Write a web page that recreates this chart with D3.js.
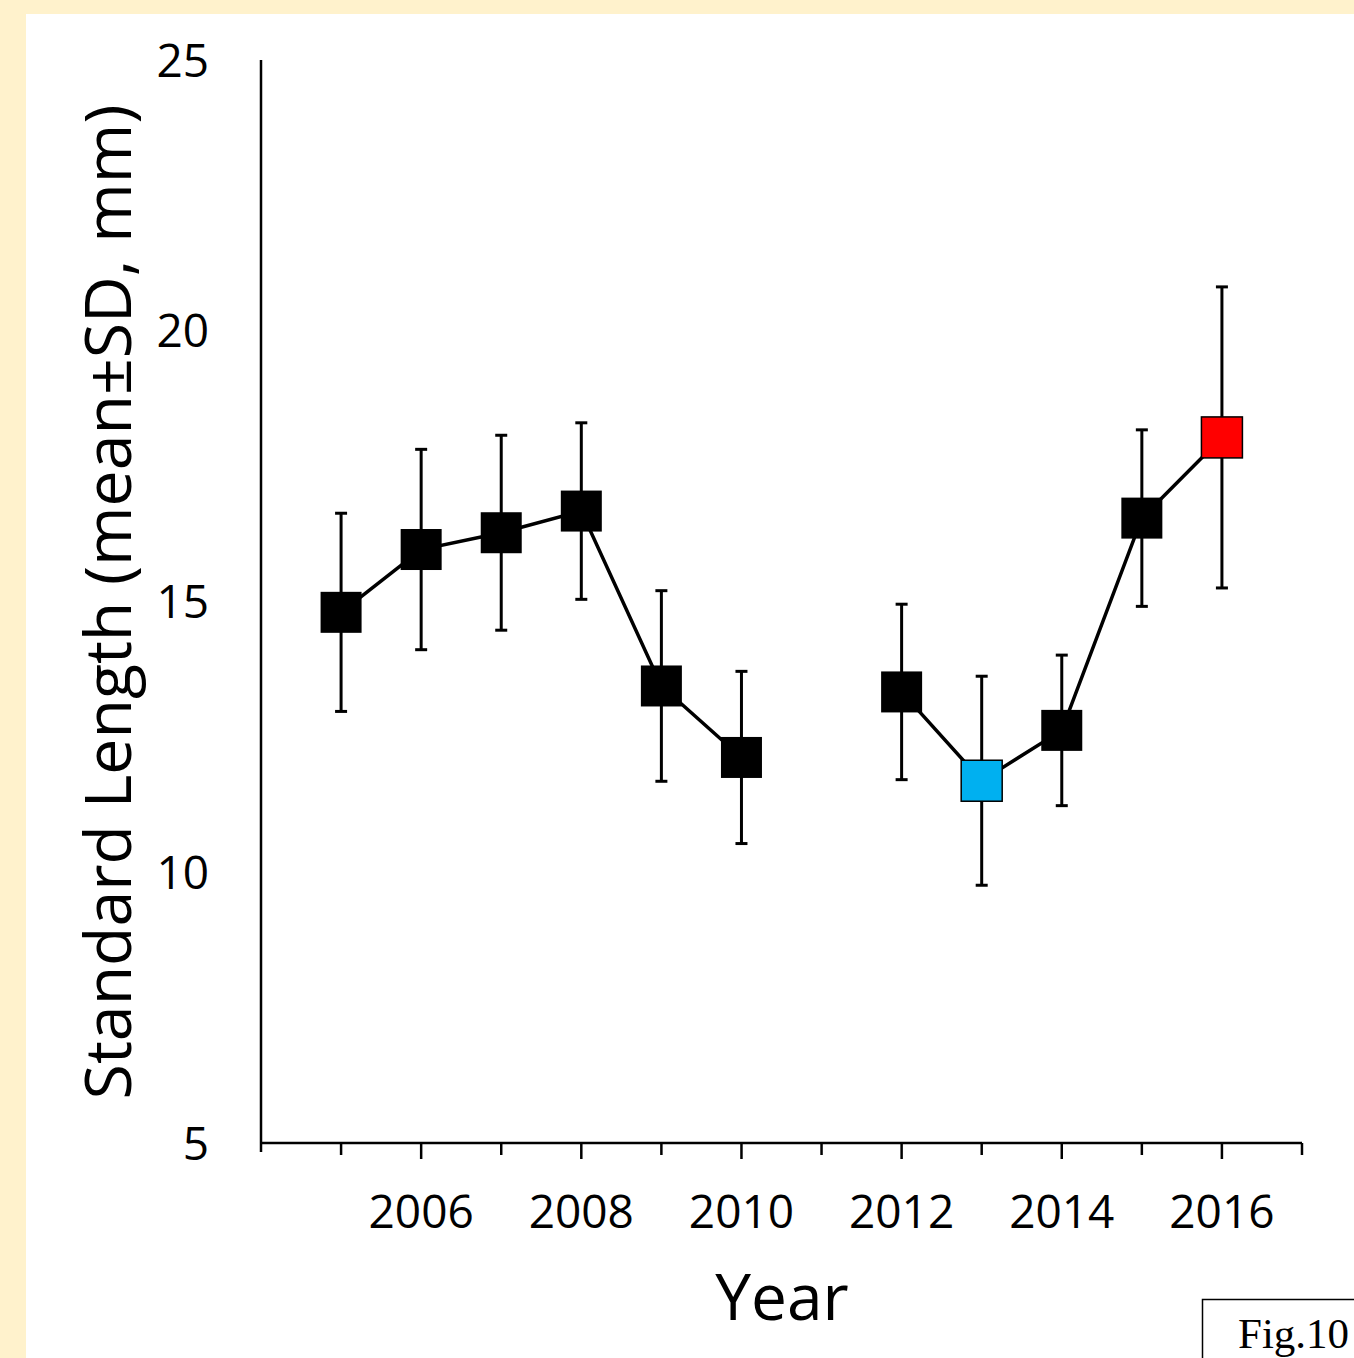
<!DOCTYPE html>
<html>
<head>
<meta charset="utf-8">
<script src="https://cdn.jsdelivr.net/npm/d3@7"></script>
<style>
html,body{margin:0;padding:0;background:#FFF2CC;overflow:hidden;}
svg{display:block;}
</style>
</head>
<body>
<svg id="chart" width="1354" height="1358"></svg>
<script>
// ---- data ----
const years = [2005, 2006, 2007, 2008, 2009, 2010, 2011, 2012, 2013, 2014, 2015, 2016];
const means = [14.80, 15.96, 16.27, 16.67, 13.44, 12.12, null, 13.33, 11.69, 12.62, 16.54, 18.03];
const sds   = [1.83, 1.85, 1.80, 1.63, 1.76, 1.59, null, 1.62, 1.93, 1.39, 1.63, 2.78];
const colors = ["#000000","#000000","#000000","#000000","#000000","#000000",null,"#000000","#00B0F0","#000000","#000000","#FF0000"];
const yTicks = [5, 10, 15, 20, 25];
const xTickLabels = [2006, 2008, 2010, 2012, 2014, 2016];
const yLabel = "Standard Length (mean\u00B1SD, mm)";
const xLabel = "Year";
const figLabel = "Fig.10";

const data = years.map((y, i) => ({year: y, mean: means[i], sd: sds[i], color: colors[i]}));

const svg = d3.select("#chart");
const W = 1354, H = 1358;
const font = "'Open Sans', sans-serif";

// white panel on cream background
svg.append("rect").attr("x", 26).attr("y", 14).attr("width", W - 26).attr("height", H - 14).attr("fill", "#fff");

const x = d3.scaleLinear().domain([2004, 2017]).range([261, 1302]);
const y = d3.scaleLinear().domain([5, 25]).range([1143, 60]);

// y axis line
svg.append("line").attr("x1", x(2004)).attr("x2", x(2004)).attr("y1", y(25)).attr("y2", y(5))
  .attr("stroke", "#000").attr("stroke-width", 2.5);

// y tick labels
svg.append("g").selectAll("text").data(yTicks).join("text")
  .attr("x", 209).attr("y", d => y(d)).attr("dy", "0.36em")
  .attr("text-anchor", "end").attr("font-family", font).attr("font-size", 46).attr("fill", "#000")
  .text(d => d);

// x axis
const xAxisG = svg.append("g").attr("transform", `translate(0,${y(5)})`);
xAxisG.append("line").attr("x1", x(2004)).attr("x2", x(2017)).attr("stroke", "#000").attr("stroke-width", 2.5);
xAxisG.selectAll("line.tick").data(d3.range(2004, 2018)).join("line").attr("class", "tick")
  .attr("x1", d => x(d)).attr("x2", d => x(d)).attr("y1", 0)
  .attr("y2", d => d === 2004 ? 9 : (d % 2 === 0 ? 16 : 12))
  .attr("stroke", "#000").attr("stroke-width", 2.5);
xAxisG.selectAll("text").data(xTickLabels).join("text")
  .attr("x", d => x(d)).attr("y", 85)
  .attr("text-anchor", "middle").attr("font-family", font).attr("font-size", 46).attr("fill", "#000")
  .text(d => d);

// axis titles
svg.append("text").attr("x", 782).attr("y", 1320).attr("text-anchor", "middle")
  .attr("font-family", font).attr("font-size", 64).attr("fill", "#000").text(xLabel);

const yl = svg.append("text").attr("transform", "translate(131,602) rotate(-90)").attr("text-anchor", "middle")
  .attr("font-family", font).attr("font-size", 66).attr("fill", "#000").text(yLabel);
// fit to reference length
const len = yl.node().getComputedTextLength();
if (len > 0) yl.attr("font-size", 66 * 995 / len);

// connecting line with gap
const line = d3.line().defined(d => d.mean != null).x(d => x(d.year)).y(d => y(d.mean));
svg.append("path").datum(data).attr("d", line).attr("fill", "none").attr("stroke", "#000").attr("stroke-width", 3.5);

const valid = data.filter(d => d.mean != null);

// error bars
const eb = svg.append("g").attr("stroke", "#000").attr("stroke-width", 3);
eb.selectAll("line.v").data(valid).join("line").attr("class", "v")
  .attr("x1", d => x(d.year)).attr("x2", d => x(d.year))
  .attr("y1", d => y(d.mean + d.sd)).attr("y2", d => y(d.mean - d.sd));
eb.selectAll("line.t").data(valid).join("line").attr("class", "t")
  .attr("x1", d => x(d.year) - 6).attr("x2", d => x(d.year) + 6)
  .attr("y1", d => y(d.mean + d.sd)).attr("y2", d => y(d.mean + d.sd));
eb.selectAll("line.b").data(valid).join("line").attr("class", "b")
  .attr("x1", d => x(d.year) - 6).attr("x2", d => x(d.year) + 6)
  .attr("y1", d => y(d.mean - d.sd)).attr("y2", d => y(d.mean - d.sd));

// markers
const S = 41;
svg.append("g").selectAll("rect").data(valid).join("rect")
  .attr("x", d => x(d.year) - S / 2).attr("y", d => y(d.mean) - S / 2)
  .attr("width", S).attr("height", S)
  .attr("fill", d => d.color)
  .attr("stroke", d => d.color === "#000000" ? "none" : "#000")
  .attr("stroke-width", 1.5);

// figure label box
svg.append("rect").attr("x", 1202.5).attr("y", 1299.5).attr("width", 200).attr("height", 100)
  .attr("fill", "#fff").attr("stroke", "#000").attr("stroke-width", 1.5);
svg.append("text").attr("x", 1238).attr("y", 1348)
  .attr("font-family", "'Liberation Serif', 'Times New Roman', serif").attr("font-size", 43).attr("fill", "#000")
  .text(figLabel);
</script>
</body>
</html>
